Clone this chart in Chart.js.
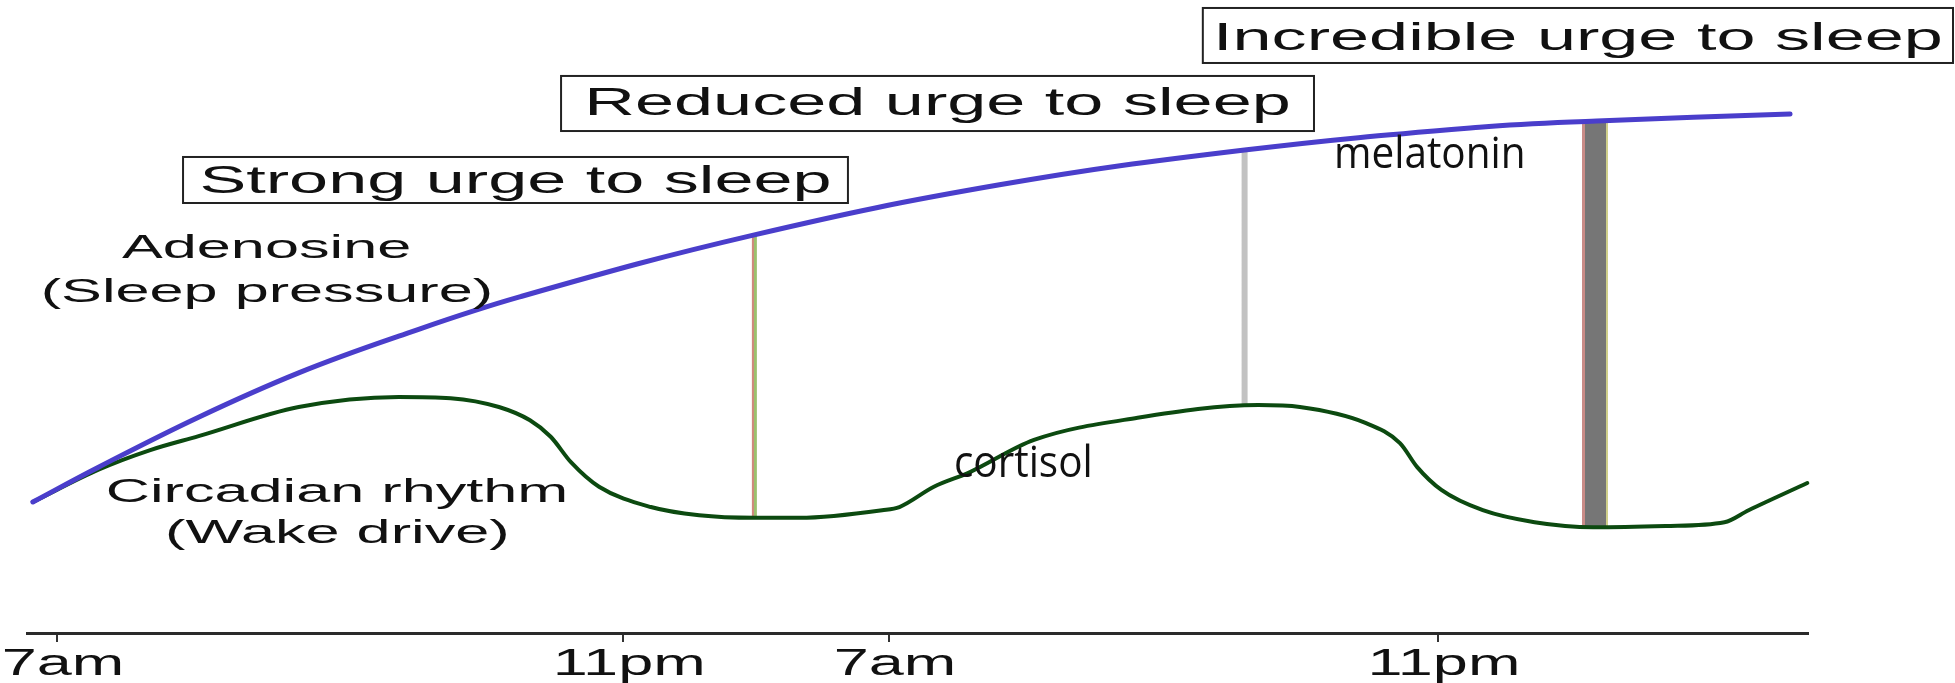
<!DOCTYPE html>
<html>
<head>
<meta charset="utf-8">
<title>Sleep pressure and wake drive</title>
<script src="https://cdn.jsdelivr.net/npm/chart.js@4.4.1/dist/chart.umd.min.js"></script>
<style>
  html, body { margin: 0; padding: 0; background: #fff; }
  #wrap { width: 1955px; height: 683px; position: relative; }
</style>
</head>
<body>
<div id="wrap"><canvas id="sleepChart"></canvas></div>
<script>
// x is in hours from the first 7am, y is a relative level (0 = axis)
const tickHours = [0, 16.4, 24.1, 40];
const tickLabels = ["7am", "11pm", "7am", "11pm"];

const adenosineHours = [-0.7, 1.2, 4.1, 7.0, 9.9, 13.4, 20.2, 27.3, 34.4, 41.2, 44.6, 50.2];
const adenosineLevel = [20.7, 26.2, 34.1, 41.1, 46.9, 53.1, 62.9, 70.8, 76.3, 79.9, 80.9, 82.0];

const circadianHours = [-0.7, 1.2, 2.7, 4.1, 7.0, 9.9, 11.4, 12.8, 13.7, 14.3, 14.9, 15.7, 17.2, 18.6, 20.2, 21.5, 23.9, 24.4, 25.4, 26.4, 28.3, 31.3, 34.8, 36.0, 37.9, 38.9, 39.4, 40.1, 41.3, 42.8, 44.5, 46.6, 48.3, 49.0, 50.7];
const circadianLevel = [20.7, 25.8, 28.9, 31.1, 35.7, 37.3, 37.1, 35.7, 33.6, 31.0, 26.9, 23.1, 19.9, 18.6, 18.2, 18.2, 19.4, 19.9, 23.1, 25.3, 30.5, 34.0, 36.0, 35.7, 33.2, 30.0, 26.2, 22.6, 19.4, 17.5, 16.7, 16.9, 17.5, 19.4, 23.7];

// vertical markers between the two curves
const markerHours = [20.2, 34.4, 44.55];
const markerLow = [18.2, 36.0, 16.7];
const markerHigh = [62.9, 76.3, 80.7];

const boxTexts = ["Strong urge to sleep", "Reduced urge to sleep", "Incredible urge to sleep"];
const curveTexts = ["Adenosine", "(Sleep pressure)", "Circadian rhythm", "(Wake drive)"];
const noteTexts = ["melatonin", "cortisol"];

// LAYOUT / STYLE (not data)
const boxes = [
    { x0: 3.65, x1: 22.91, y0: 75.2, y1: 67.93, base: 69.5 },
    { x0: 14.6, x1: 36.41, y0: 88.0, y1: 79.3, base: 81.83 },
    { x0: 33.19, x1: 54.92, y0: 98.74, y1: 90.05, base: 92.1 }
];
const curveTextPos = [[6.07, 59.24], [6.08, 52.29], [8.11, 20.7], [8.12, 14.22]];
const noteTextPos = [[36.99, 73.46], [25.98, 24.64]];
const markerStyles = [
    { width: 5, stops: [[0, '#cf8a7e'], [0.5, '#cf8a7e'], [0.5, '#9cc06e'], [1, '#9cc06e']] },
    { width: 6, stops: [[0, '#c2c2c2'], [1, '#c2c2c2']] },
    { width: 26, stops: [[0, '#c98c88'], [0.1, '#c98c88'], [0.1, '#767676'], [0.92, '#767676'], [0.92, '#cfcf8a'], [1, '#cfcf8a']] }
];
const ARIAL = "'Liberation Sans', Arial, sans-serif";
const STRETCH = 1.8;

function toPoints(xs, ys) {
    return xs.map((x, i) => ({ x: x, y: ys[i] }));
}

function stripeColor(i) {
    return (ctx) => {
        const chart = ctx.chart;
        const xs = chart.scales && chart.scales.x;
        const st = markerStyles[i];
        if (!xs || !isFinite(xs.getPixelForValue(markerHours[i]))) return st.stops[0][1];
        const px = xs.getPixelForValue(markerHours[i]);
        const g = chart.ctx.createLinearGradient(px - st.width / 2, 0, px + st.width / 2, 0);
        st.stops.forEach(s => g.addColorStop(s[0], s[1]));
        return g;
    };
}

function drawText(ctx, text, x, y, font, sx, align) {
    ctx.save();
    ctx.font = font;
    ctx.textBaseline = 'alphabetic';
    ctx.textAlign = 'left';
    ctx.fillStyle = '#111';
    const w = ctx.measureText(text).width * sx;
    const left = align === 'center' ? x - w / 2 : x;
    ctx.translate(left, y);
    ctx.scale(sx, 1);
    ctx.fillText(text, 0, 0);
    ctx.restore();
}

const labelPlugin = {
    id: 'labels',
    afterDraw(chart) {
        const ctx = chart.ctx;
        const xs = chart.scales.x, ys = chart.scales.y;

        // tick labels, stretched like the original drawing
        xs.ticks.forEach((t, i) => {
            const px = xs.getPixelForValue(t.value);
            drawText(ctx, tickLabels[i], px + 6, chart.chartArea.bottom + 42, '36px ' + ARIAL, 1.75, 'center');
        });

        // boxed captions
        boxes.forEach((b, i) => {
            const l = xs.getPixelForValue(b.x0), r = xs.getPixelForValue(b.x1);
            const t = ys.getPixelForValue(b.y0), btm = ys.getPixelForValue(b.y1);
            ctx.save();
            ctx.fillStyle = '#fff';
            ctx.fillRect(l, t, r - l, btm - t);
            ctx.strokeStyle = '#222';
            ctx.lineWidth = 2;
            ctx.strokeRect(l, t, r - l, btm - t);
            ctx.restore();
            drawText(ctx, boxTexts[i], (l + r) / 2, ys.getPixelForValue(b.base), '39px ' + ARIAL, STRETCH, 'center');
        });

        curveTexts.forEach((txt, i) => {
            const p = curveTextPos[i];
            drawText(ctx, txt, xs.getPixelForValue(p[0]), ys.getPixelForValue(p[1]), '34px ' + ARIAL, STRETCH, 'center');
        });

        noteTexts.forEach((txt, i) => {
            const p = noteTextPos[i];
            drawText(ctx, txt, xs.getPixelForValue(p[0]), ys.getPixelForValue(p[1]), "44px 'Open Sans', sans-serif", 0.92, 'left');
        });
    }
};

const datasets = [
    {
        label: 'Adenosine (Sleep pressure)',
        data: toPoints(adenosineHours, adenosineLevel),
        borderColor: '#4a3ecb',
        borderWidth: 5,
        borderCapStyle: 'round',
        tension: 0.4,
        pointRadius: 0,
        clip: false,
        order: 0
    },
    {
        label: 'Circadian rhythm (Wake drive)',
        data: toPoints(circadianHours, circadianLevel),
        borderColor: '#0c4a10',
        borderWidth: 4,
        borderCapStyle: 'round',
        cubicInterpolationMode: 'monotone',
        pointRadius: 0,
        clip: false,
        order: 1
    }
];

markerHours.forEach((h, i) => {
    datasets.push({
        label: 'marker ' + i,
        data: [{ x: h, y: markerLow[i] }, { x: h, y: markerHigh[i] }],
        borderColor: stripeColor(i),
        borderWidth: markerStyles[i].width,
        borderCapStyle: 'butt',
        pointRadius: 0,
        order: 2
    });
});

const chart = new Chart(document.getElementById('sleepChart').getContext('2d'), {
    type: 'line',
    data: { datasets: datasets },
    options: {
        responsive: true,
        maintainAspectRatio: false,
        animation: false,
        layout: { padding: { left: 27, right: 147, top: 0, bottom: 0 }, autoPadding: false },
        plugins: { legend: { display: false }, tooltip: { enabled: false } },
        scales: {
            x: {
                type: 'linear',
                min: -0.87,
                max: 50.72,
                afterBuildTicks: (scale) => { scale.ticks = tickHours.map(v => ({ value: v })); },
                afterFit: (scale) => { scale.height = 50; },
                ticks: { display: false },
                grid: { drawOnChartArea: false, drawTicks: true, tickLength: 9, color: '#333', lineWidth: 2 },
                border: { display: true, color: '#2a2a2a', width: 3 }
            },
            y: {
                display: false,
                min: 0,
                max: 100
            }
        }
    },
    plugins: [labelPlugin]
});
</script>
</body>
</html>
